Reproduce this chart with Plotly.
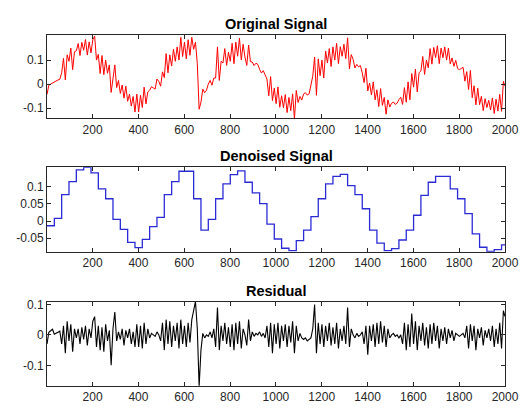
import plotly.graph_objects as go

# ---- data ----
block_size = 32
# denoised signal: one level per 32-sample block (blocks 0..62)
denoised_levels = [
    -0.0135, 0.008, 0.077, 0.115, 0.149, 0.156, 0.14, 0.094, 0.065, 0.005,
    -0.024, -0.062, -0.077, -0.053, -0.016, 0.011, 0.077, 0.115, 0.145, 0.145,
    0.065, -0.026, 0.005, 0.065, 0.108, 0.135, 0.146, 0.113, 0.082, 0.051,
    -0.009, -0.052, -0.079, -0.086, -0.057, -0.026, 0.013, 0.065, 0.108, 0.13,
    0.136, 0.103, 0.077, 0.036, -0.026, -0.064, -0.086, -0.08, -0.055, -0.026,
    0.017, 0.075, 0.113, 0.13, 0.13, 0.094, 0.065, 0.022, -0.037, -0.076,
    -0.088, -0.083, -0.069,
]

# residual read every 8 samples (x = 1, 9, 17, ..., 1993) plus last sample 2000
residual_x = list(range(1, 2000, 8)) + [2000]
residual = [
    # 1 - 193
    -0.03, 0.0085, 0.0135, 0.0185, 0.002, 0.005, 0.009, 0.012, -0.03, 0.03,
    -0.06, 0.045, -0.02, 0.035, -0.055, 0.02, -0.01, 0.02, -0.03, 0.025,
    -0.015, 0.03, -0.035, 0.02, -0.01,
    # 201 - 393
    0.045, 0.06, -0.04, 0.03, -0.05, 0.025, -0.055, 0.035, -0.02, 0.015,
    -0.1, 0.02, 0.075, -0.02, 0.01, -0.015, 0.02, -0.035, 0.015, -0.01,
    0.02, -0.03, 0.01, -0.04, 0.035,
    # 401 - 593
    -0.04, 0.03, -0.045, 0.04, -0.03, 0.02, -0.01, 0.005, 0.0, -0.005,
    0.01, 0.0, -0.02, 0.04, -0.05, 0.05, -0.03, 0.045, -0.04, 0.03,
    -0.02, 0.04, -0.045, 0.05, -0.03,
    # 601 - 793
    0.03, -0.04, 0.04, -0.025, 0.05, 0.08, 0.11, 0.02, -0.17, -0.05,
    0.005, -0.01, 0.0, -0.005, 0.01, -0.01, 0.02, -0.04, 0.09, -0.05,
    0.03, -0.02, 0.04, -0.03, 0.025,
    # 801 - 993
    -0.04, 0.035, -0.05, 0.04, -0.03, 0.045, -0.045, 0.02, 0.0, -0.035,
    0.05, -0.02, 0.01, -0.005, 0.005, 0.0, 0.01, -0.005, 0.005, -0.01,
    0.03, -0.04, 0.04, -0.06, 0.035,
    # 1001 - 1193
    -0.03, 0.04, -0.045, 0.03, -0.02, 0.035, -0.04, 0.03, -0.025, 0.045,
    -0.06, 0.03, -0.02, 0.005, -0.01, -0.015, -0.01, -0.02, -0.015, -0.01,
    0.02, 0.1, -0.06, 0.04, -0.03,
    # 1201 - 1393
    0.035, -0.04, 0.03, -0.02, 0.04, -0.035, 0.025, -0.03, 0.04, -0.045,
    0.02, -0.02, 0.03, -0.03, 0.09, -0.04, 0.02, 0.0, -0.01, 0.005,
    -0.005, 0.0, 0.01, -0.03, 0.03,
    # 1401 - 1593
    -0.065, 0.03, -0.02, 0.035, -0.04, 0.04, -0.03, 0.045, -0.025, 0.03,
    -0.04, 0.02, -0.01, 0.0, 0.005, -0.005, 0.0, -0.01, 0.0, -0.03,
    0.04, -0.05, 0.035, -0.04, 0.07,
    # 1601 - 1793
    -0.03, 0.045, -0.05, 0.03, -0.02, 0.04, -0.035, 0.025, -0.045, 0.035,
    -0.03, 0.04, -0.02, 0.03, -0.045, 0.02, -0.02, 0.025, -0.03, 0.02,
    -0.01, 0.015, -0.02, 0.005, 0.0,
    # 1801 - 1993, 2000
    -0.005, 0.0, 0.005, -0.01, 0.03, -0.045, 0.035, -0.02, 0.03, -0.05,
    0.02, -0.01, 0.025, -0.035, 0.015, -0.01, 0.02, -0.02, 0.03, -0.04,
    0.02, -0.03, 0.04, -0.045, 0.08, 0.06,
]

x_ticks = [200, 400, 600, 800, 1000, 1200, 1400, 1600, 1800, 2000]
titles = ["Original Signal", "Denoised Signal", "Residual"]
y_ticks = [[-0.1, 0, 0.1], [-0.05, 0, 0.05, 0.1], [-0.1, 0, 0.1]]
y_ticktext = [["-0.1", "0", "0.1"], ["-0.05", "0", "0.05", "0.1"], ["-0.1", "0", "0.1"]]

# ---- derived series ----
n_blocks = len(denoised_levels)
den_x = [1 + block_size * k for k in range(n_blocks)] + [2000]
den_y = denoised_levels + [denoised_levels[-1]]


def denoised_at(x):
    return denoised_levels[min((x - 1) // block_size, n_blocks - 1)]


original = [denoised_at(x) + r for x, r in zip(residual_x, residual)]

# ---- figure ----
W, H = 521, 408
fig = go.Figure()
fig.add_trace(go.Scatter(x=residual_x, y=original, mode="lines",
                         line=dict(color="#ff0000", width=1), xaxis="x", yaxis="y"))
fig.add_trace(go.Scatter(x=den_x, y=den_y, mode="lines", line_shape="hv",
                         line=dict(color="#2b2bd6", width=1.3), xaxis="x2", yaxis="y2"))
fig.add_trace(go.Scatter(x=residual_x, y=residual, mode="lines",
                         line=dict(color="#000000", width=1.1), xaxis="x3", yaxis="y3"))

xdom = [47 / W, 505 / W]
panels = [(34.7, 118.3), (167.3, 251.7), (301.7, 385.7)]
yranges = [[-0.143, 0.206], [-0.089, 0.1565], [-0.167, 0.109]]
axcol = "#262626"
tickfont = dict(family="Liberation Sans, Arial, sans-serif", size=12, color=axcol)

layout = dict(
    width=W, height=H, margin=dict(l=0, r=0, t=0, b=0),
    paper_bgcolor="white", plot_bgcolor="white", showlegend=False,
)
annotations = []
for i, (top, bot) in enumerate(panels):
    sfx = "" if i == 0 else str(i + 1)
    layout["xaxis" + sfx] = dict(
        domain=xdom, range=[1, 2000], anchor="y" + sfx,
        tickvals=x_ticks, ticktext=[str(v) for v in x_ticks],
        ticks="inside", ticklen=4, tickcolor=axcol, tickwidth=1,
        showline=True, linecolor=axcol, linewidth=1, mirror="ticks",
        showgrid=False, zeroline=False, tickfont=tickfont, automargin=False,
    )
    layout["yaxis" + sfx] = dict(
        domain=[1 - bot / H, 1 - top / H], range=yranges[i], anchor="x" + sfx,
        tickvals=y_ticks[i], ticktext=y_ticktext[i],
        ticks="inside", ticklen=4, tickcolor=axcol, tickwidth=1,
        showline=True, linecolor=axcol, linewidth=1, mirror="ticks",
        showgrid=False, zeroline=False, tickfont=tickfont, automargin=False,
    )
    annotations.append(dict(
        text="<b>" + titles[i] + "</b>", x=(xdom[0] + xdom[1]) / 2, y=1 - top / H,
        xref="paper", yref="paper", xanchor="center", yanchor="bottom",
        showarrow=False, yshift=1,
        font=dict(family="Liberation Sans, Arial, sans-serif", size=14.5, color="#000000"),
    ))
layout["annotations"] = annotations
fig.update_layout(**layout)

fig.write_html("out.html", config={"displayModeBar": False},
               post_script="document.body.style.margin='0';document.body.style.overflow='hidden';")
